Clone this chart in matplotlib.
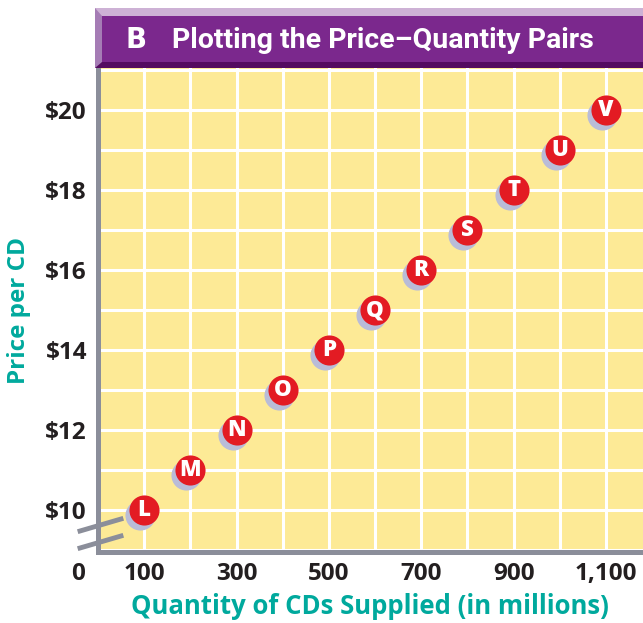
import matplotlib
matplotlib.use("Agg")
import matplotlib.pyplot as plt
from matplotlib.patches import Rectangle, Polygon
from matplotlib.lines import Line2D
import matplotlib.transforms as mtransforms

# Data
quantity = [100, 200, 300, 400, 500, 600, 700, 800, 900, 1000, 1100]
price = [10, 11, 12, 13, 14, 15, 16, 17, 18, 19, 20]
point_labels = ["L", "M", "N", "O", "P", "Q", "R", "S", "T", "U", "V"]
x_ticks = [100, 300, 500, 700, 900, 1100]
x_ticklabels = ["100", "300", "500", "700", "900", "1,100"]
y_ticks = [10, 12, 14, 16, 18, 20]
y_ticklabels = ["$10", "$12", "$14", "$16", "$18", "$20"]
title = "Plotting the Price\u2013Quantity Pairs"
panel = "B"
xlabel = "Quantity of CDs Supplied (in millions)"
ylabel = "Price per CD"

W, H = 643, 623
fig = plt.figure(figsize=(W / 100, H / 100), dpi=100)
fig.patch.set_facecolor("white")

def fx(px):
    return px / W

def fy(py):
    return 1 - py / H

ax_left, ax_right, ax_bottom, ax_top = 98, 643, 552, 66
ax = fig.add_axes([fx(ax_left), fy(ax_bottom), fx(ax_right - ax_left), (ax_bottom - ax_top) / H])
ax.set_facecolor("#fdea96")
ax.set_xlim(0, 1180)
ax.set_ylim(8.95, 21.1)

# grid
for gx in range(100, 1200, 100):
    ax.axvline(gx, color="white", lw=2.2, zorder=1)
for gy in range(9, 22):
    ax.axhline(gy, color="white", lw=2.2, zorder=1)

spine_c = "#8b8e9a"
for s in ["top", "right"]:
    ax.spines[s].set_visible(False)
for s in ["left", "bottom"]:
    ax.spines[s].set_color(spine_c)
    ax.spines[s].set_linewidth(3.6)
    ax.spines[s].set_zorder(5)

TICK_FS = 17.5
ax.set_xticks(x_ticks)
ax.set_xticklabels(x_ticklabels)
ax.set_yticks(y_ticks)
ax.set_yticklabels(y_ticklabels)
ax.tick_params(length=0, labelsize=TICK_FS, labelcolor="#231f20")
for t in ax.get_xticklabels() + ax.get_yticklabels():
    t.set_fontweight("bold")
    t.set_family("Open Sans")
ax.tick_params(axis="y", pad=8)
ax.tick_params(axis="x", pad=7)

# "0" label at break
fig.text(fx(78), fy(574), "0", ha="center", va="center", fontsize=TICK_FS,
         fontweight="bold", color="#231f20", family="Open Sans")

# axis labels
fig.text(fx(370), fy(607), xlabel, ha="center", va="center", fontsize=18.5,
         fontweight="bold", color="#00a99d", family="Open Sans")
fig.text(fx(19), fy(310), ylabel, ha="center", va="center", fontsize=17.5,
         fontweight="bold", color="#00a99d", family="Open Sans", rotation=90)

# break marks on y-axis
for y0 in [525, 542]:
    fig.add_artist(Line2D([fx(80), fx(121)], [fy(y0 + 6), fy(y0 - 6)],
                          color=spine_c, lw=3.5, transform=fig.transFigure, zorder=6))

# points: shadow + red disc + letter
shadow_tr = mtransforms.offset_copy(ax.transData, fig=fig, x=-4, y=-5, units="dots")
ax.scatter(quantity, price, s=470, color="#b9bcd8", transform=shadow_tr, zorder=3,
           linewidths=0, clip_on=False)
ax.scatter(quantity, price, s=470, color="#e31b23", zorder=4, linewidths=0, clip_on=False)
for q, p, lab in zip(quantity, price, point_labels):
    ax.text(q, p, lab, ha="center", va="center", fontsize=16, fontweight="heavy",
            color="white", family="Open Sans", zorder=5)

# banner
b_left, b_top, b_bot = 95, 8, 68
def rect(x0, y0, x1, y1, c, z=10):
    fig.add_artist(Rectangle((fx(x0), fy(y1)), fx(x1 - x0), (y1 - y0) / H,
                             transform=fig.transFigure, facecolor=c, edgecolor="none", zorder=z))
rect(b_left, b_top, 643, b_bot, "#7b288d")
rect(b_left, b_top, 643, 16, "#cdb1d5", 11)
rect(b_left, 62, 643, b_bot, "#540b60", 11)
fig.add_artist(Polygon([(fx(b_left), fy(b_top)), (fx(b_left + 7), fy(16)),
                        (fx(b_left + 7), fy(62)), (fx(b_left), fy(b_bot))],
                       closed=True, transform=fig.transFigure, facecolor="#a57cb5",
                       edgecolor="none", zorder=12))
fig.text(fx(136), fy(40), panel, ha="center", va="center", fontsize=20,
         fontweight="heavy", color="white", family="DejaVu Sans", zorder=13)
fig.text(fx(172), fy(40), title, ha="left", va="center", fontsize=20.5,
         fontweight="bold", color="white", family="Roboto", zorder=13)

fig.savefig("out.png", dpi=100)
